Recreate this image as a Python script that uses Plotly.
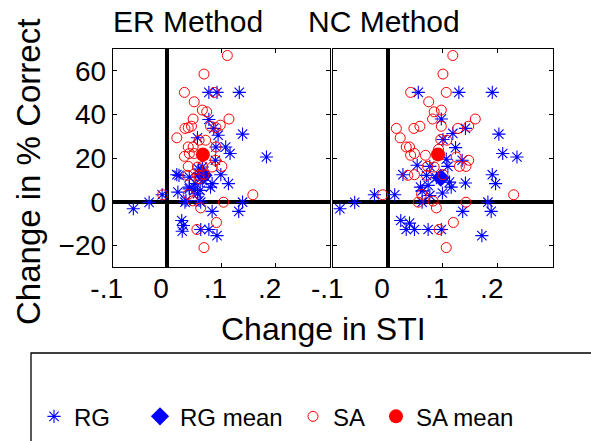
import plotly.graph_objects as go

# ---------------- data ----------------
er_rg_x = [-0.062, -0.033, -0.009, 0.020, 0.018, 0.022, 0.041, 0.056, 0.077, 0.077, 0.092, 0.133,
           0.139, 0.183, 0.116, 0.108, 0.090, 0.086, 0.094, 0.099, 0.113, 0.083, 0.065, 0.058,
           0.068, 0.059, 0.053, 0.041, 0.056, 0.050, 0.041, 0.061, 0.080, 0.033, 0.035, 0.059,
           0.062, 0.083, 0.132, 0.139, 0.027, 0.030, 0.028, 0.062, 0.077, 0.092, 0.089, 0.065]
er_rg_y = [-3.2, -0.3, 3.2, 4.4, 12.4, 12.1, 11.3, 29.3, 37.7, 50.1, 50.1, 50.1,
           31.0, 20.5, 22.1, 25.1, 25.1, 33.6, 30.5, 12.4, 8.3, 8.3, 15.9, 15.0,
           12.1, 12.9, 8.3, 6.7, 3.7, 5.2, 5.9, 5.2, 6.7, -0.2, 0.6, 0.6,
           -0.2, -4.4, -4.4, -0.2, -8.6, -10.9, -13.5, -12.7, -12.7, -15.5, 19.0, 9.8]

er_sa_x = [0.111, 0.068, 0.032, 0.087, 0.050, 0.065, 0.073, 0.048, 0.114, 0.033, 0.039, 0.045,
           0.080, 0.090, 0.098, 0.018, 0.071, 0.090, 0.039, 0.048, 0.032, 0.041, 0.050, 0.089,
           0.039, 0.065, 0.083, 0.101, 0.038, 0.059, 0.068, -0.008, 0.039, 0.047, 0.062, 0.104,
           0.158, 0.091, 0.055, 0.068, 0.059, 0.056, 0.059]
er_sa_y = [67.0, 58.5, 50.1, 50.1, 45.8, 42.0, 41.2, 37.9, 37.9, 33.6, 33.9, 34.6,
           34.6, 34.0, 35.1, 29.3, 28.2, 25.1, 25.1, 25.1, 20.8, 22.1, 22.1, 19.0,
           16.2, 16.2, 15.9, 16.2, 12.1, 12.1, 12.4, 3.2, 3.4, 0.4, -2.8, -0.2,
           3.2, -9.5, -12.7, -21.0, 28.2, 15.9, 10.6]

nc_rg_x = [-0.088, -0.061, -0.025, 0.012, 0.055, 0.129, 0.190, 0.097, 0.118, 0.141, 0.202, 0.209,
           0.235, 0.123, 0.100, 0.135, 0.109, 0.053, 0.076, 0.027, 0.070, 0.112, 0.115, 0.141,
           0.190, 0.196, 0.059, 0.073, 0.099, 0.062, 0.076, 0.136, 0.182, 0.188, 0.023, 0.039,
           0.033, 0.048, 0.073, 0.097, 0.171, 0.106, 0.062, 0.088]
nc_rg_y = [-3.2, -0.3, 3.2, 3.2, 50.1, 50.1, 50.1, 37.9, 31.3, 33.6, 31.0, 22.1,
           20.5, 24.8, 28.5, 19.0, 16.2, 16.7, 16.2, 12.4, 12.1, 9.0, 6.7, 8.6,
           12.4, 8.3, 6.7, 7.5, 4.0, -0.2, 2.9, -4.4, -0.2, -4.4, -8.6, -9.8,
           -12.7, -12.7, -12.7, -12.7, -15.5, 19.5, 5.0, 11.0]

nc_sa_x = [0.118, 0.100, 0.041, 0.106, 0.074, 0.097, 0.084, 0.081, 0.159, 0.147, 0.127, 0.097,
           0.058, 0.047, 0.015, 0.022, 0.033, 0.039, 0.041, 0.048, 0.068, 0.096, 0.107, 0.124,
           0.147, 0.130, 0.142, 0.072, 0.084, 0.036, 0.048, 0.100, 0.070, -0.010, 0.061, 0.055,
           0.082, 0.088, 0.142, 0.229, 0.119, 0.093, 0.106, 0.092]
nc_sa_y = [67.0, 58.5, 50.1, 50.1, 45.8, 42.0, 41.2, 37.9, 37.9, 34.6, 33.6, 34.6,
           34.6, 33.6, 33.6, 29.3, 25.1, 25.1, 21.3, 22.1, 21.3, 28.5, 28.2, 20.5,
           19.0, 16.2, 16.2, 16.2, 15.9, 12.1, 12.4, 12.4, 12.1, 3.2, 3.4, -0.2,
           0.3, -2.8, -0.2, 3.2, -9.5, -12.7, -21.0, 24.0]

er_rg_mean = (0.067, 12.1)
er_sa_mean = (0.066, 21.6)
nc_rg_mean = (0.096, 11.0)
nc_sa_mean = (0.091, 21.7)

panel_titles = ["ER Method", "NC Method"]
x_tickvals = [-0.1, 0, 0.1, 0.2]
x_ticktext = ["-.1", "0", ".1", ".2"]
y_tickvals = [-20, 0, 20, 40, 60]

FONT = "Liberation Sans, Arial, sans-serif"
BLUE = "#0000ff"
RED = "#ff0000"

fig = go.Figure()

panels = [
    ("x", "y", er_rg_x, er_rg_y, er_sa_x, er_sa_y, er_rg_mean, er_sa_mean, True),
    ("x2", "y2", nc_rg_x, nc_rg_y, nc_sa_x, nc_sa_y, nc_rg_mean, nc_sa_mean, False),
]
for xa, ya, rgx, rgy, sax, say, rgm, sam, show in panels:
    fig.add_trace(go.Scatter(x=rgx, y=rgy, xaxis=xa, yaxis=ya, mode="markers", name="RG",
                             legend="legend", showlegend=show,
                             marker=dict(symbol="asterisk-open", size=11, color=BLUE,
                                         line=dict(color=BLUE, width=1.1))))
    fig.add_trace(go.Scatter(x=[rgm[0]], y=[rgm[1]], xaxis=xa, yaxis=ya, mode="markers",
                             name="RG mean", legend="legend2", showlegend=show,
                             marker=dict(symbol="diamond", size=14, color=BLUE)))
    fig.add_trace(go.Scatter(x=sax, y=say, xaxis=xa, yaxis=ya, mode="markers", name="SA",
                             legend="legend3", showlegend=show,
                             marker=dict(symbol="circle-open", size=10, color=RED,
                                         line=dict(color=RED, width=1))))
    fig.add_trace(go.Scatter(x=[sam[0]], y=[sam[1]], xaxis=xa, yaxis=ya, mode="markers",
                             name="SA mean", legend="legend4", showlegend=show,
                             marker=dict(symbol="circle", size=14, color=RED)))

xcommon = dict(range=[-0.1, 0.3], tickvals=x_tickvals, ticktext=x_ticktext, ticks="inside",
               ticklen=4, tickcolor="black", mirror="ticks", showline=True, linecolor="black",
               linewidth=1, showgrid=False, zeroline=True, zerolinecolor="black",
               zerolinewidth=4, layer="above traces", automargin=False,
               ticklabelshift=-6, ticklabelstandoff=-4,
               tickfont=dict(family=FONT, size=28, color="black"))
ycommon = dict(range=[-30, 70], tickvals=y_tickvals, ticks="inside", ticklen=4,
               tickcolor="black", mirror="ticks", showline=True, linecolor="black",
               linewidth=1, showgrid=False, zeroline=True, zerolinecolor="black",
               zerolinewidth=4, layer="above traces", domain=[0.394, 0.889], automargin=False,
               tickfont=dict(family=FONT, size=28, color="black"))

fig.update_layout(
    width=591, height=441, margin=dict(l=0, r=0, t=0, b=0, autoexpand=False),
    paper_bgcolor="white", plot_bgcolor="white",
    xaxis=dict(domain=[0.1907, 0.5584], anchor="y", **xcommon),
    xaxis2=dict(domain=[0.564, 0.935], anchor="y2", **xcommon),
    yaxis=dict(anchor="x", **ycommon),
    yaxis2=dict(anchor="x2", showticklabels=False, **ycommon),
)

leg_common = dict(orientation="h", yanchor="middle", y=0.055, xanchor="left",
                  bgcolor="rgba(0,0,0,0)", borderwidth=0,
                  font=dict(family=FONT, size=24, color="black"))
fig.update_layout(
    legend=dict(x=34 / 591, **leg_common),
    legend2=dict(x=140 / 591, **leg_common),
    legend3=dict(x=293 / 591, **leg_common),
    legend4=dict(x=376 / 591, **leg_common),
)

# legend frame
fig.add_shape(type="rect", xref="paper", yref="paper", x0=31 / 591, x1=1.05,
              y0=-0.1, y1=1 - 353 / 441, line=dict(color="black", width=1.3))

# titles and axis labels
fig.add_annotation(text=panel_titles[0], x=188 / 591, y=1 - 22 / 441, xref="paper", yref="paper",
                   showarrow=False, xanchor="center", yanchor="middle",
                   font=dict(family=FONT, size=30, color="black"))
fig.add_annotation(text=panel_titles[1], x=384 / 591, y=1 - 22 / 441, xref="paper", yref="paper",
                   showarrow=False, xanchor="center", yanchor="middle",
                   font=dict(family=FONT, size=30, color="black"))
fig.add_annotation(text="Change in STI", x=323.5 / 591, y=1 - 329 / 441, xref="paper",
                   yref="paper", showarrow=False, xanchor="center", yanchor="middle",
                   font=dict(family=FONT, size=32, color="black"))
fig.add_annotation(text="Change in % Correct", x=28 / 591, y=1 - 172 / 441, xref="paper",
                   yref="paper", showarrow=False, xanchor="center", yanchor="middle",
                   textangle=-90, font=dict(family=FONT, size=33, color="black"))

fig.write_html("out.html")
